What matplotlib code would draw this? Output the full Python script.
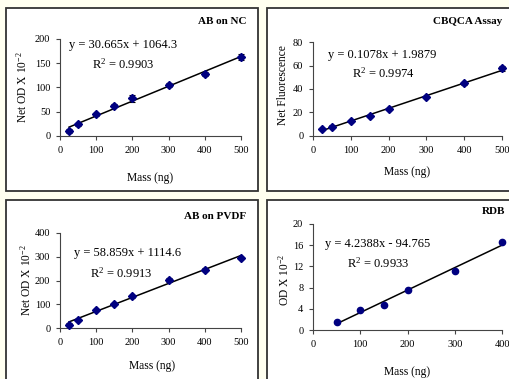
import matplotlib
matplotlib.use("Agg")
import matplotlib.pyplot as plt
from matplotlib.patches import Rectangle
import numpy as np

plt.rcParams['font.family'] = ['Liberation Serif', 'DejaVu Serif']
plt.rcParams['mathtext.fontset'] = 'custom'
plt.rcParams['mathtext.rm'] = 'Liberation Serif'
plt.rcParams['mathtext.it'] = 'Liberation Serif:italic'

W, H = 509, 379

# data
nc_x = [25, 50, 100, 150, 200, 300, 400, 500]
nc_y = [10, 24, 45, 62, 78, 105, 127, 163]
nc_err = [4, 3, 3, 3, 7, 5, 4, 6]
nc_fit = (30.665, 1064.3)

cb_x = [25, 50, 100, 150, 200, 300, 400, 500]
cb_y = [6, 8, 12.5, 17, 23, 33, 45, 57.5]
cb_err = [1, 1, 1, 1, 1, 1, 1.2, 2]
cb_fit = (0.1078, 1.9879)

pv_x = [25, 50, 100, 150, 200, 300, 400, 500]
pv_y = [13, 35, 75, 103, 133, 202, 246, 296]
pv_err = [6, 5, 5, 4, 6, 7, 5, 4]
pv_fit = (58.859, 1114.6)

rdb_x = [50, 100, 150, 200, 300, 400]
rdb_y = [1.5, 3.7, 4.8, 7.5, 11.2, 16.6]
rdb_fit = (4.2388, -94.765)

fig = plt.figure(figsize=(W / 100, H / 100), dpi=100, facecolor='#fffff0')


def px_rect(x0, y0, x1, y1):
    return [x0 / W, 1 - y1 / H, (x1 - x0) / W, (y1 - y0) / H]


def ftext(x, y, s, **kw):
    fig.text(x / W, 1 - y / H, s, **kw)


# panel boxes
for (x0, y0, x1, y1) in [(6, 8, 258, 191), (267, 8, 514, 191),
                         (6, 200, 258, 384), (267, 200, 514, 384)]:
    fig.patches.append(Rectangle((x0 / W, 1 - y1 / H), (x1 - x0) / W, (y1 - y0) / H,
                                 transform=fig.transFigure, facecolor='white',
                                 edgecolor='#333333', lw=1.3, zorder=-5))


def panel(rect, x, y, err, fit, xlim, xticks, ylim, yticks, marker, scale):
    ax = fig.add_axes(px_rect(*rect))
    ax.set_zorder(2)
    ax.patch.set_visible(False)
    if err is not None:
        ax.errorbar(x, y, yerr=err, fmt=marker, color='#000080', ms=4,
                    ecolor='black', elinewidth=0.8, capsize=2.5, capthick=0.8,
                    zorder=3, clip_on=False)
    else:
        ax.plot(x, y, marker, color='#000080', ms=4.5, zorder=3, clip_on=False)
    xs = np.array([x[0], x[-1]])
    ax.plot(xs, (fit[0] * xs + fit[1]) / scale, color='black', lw=1.1, zorder=2)
    ax.set_xlim(*xlim)
    ax.set_ylim(*ylim)
    ax.set_xticks(xticks)
    ax.set_yticks(yticks)
    for s in ['top', 'right']:
        ax.spines[s].set_visible(False)
    for s in ['left', 'bottom']:
        ax.spines[s].set_color('#444444')
        ax.spines[s].set_linewidth(0.8)
    ax.tick_params(direction='out', length=3, width=0.8, labelsize=7.5, pad=4,
                   color='#444444')
    return ax


panel((60, 39, 241, 136), nc_x, nc_y, nc_err, nc_fit, (0, 500), range(0, 501, 100),
      (0, 200), range(0, 201, 50), 'D', 100)
panel((313, 42, 502, 136), cb_x, cb_y, cb_err, cb_fit, (0, 500), range(0, 501, 100),
      (0, 80), range(0, 81, 20), 'D', 1)
panel((60, 233, 241, 328), pv_x, pv_y, pv_err, pv_fit, (0, 500), range(0, 501, 100),
      (0, 400), range(0, 401, 100), 'D', 100)
panel((313, 224, 502, 330), rdb_x, rdb_y, None, rdb_fit, (0, 400), range(0, 401, 100),
      (0, 20), range(0, 21, 4), 'o', 100)

tkw = dict(fontsize=8, fontweight='bold', ha='right', va='center')
ekw = dict(fontsize=9, ha='left', va='center')
lkw = dict(fontsize=8.3, ha='center', va='center')

ftext(247, 22, 'AB on NC', **tkw)
ftext(69, 45, 'y = 30.665x + 1064.3', **ekw)
ftext(92, 64, 'R$^2$ = 0.9903', **ekw)
ftext(150, 178, 'Mass (ng)', **lkw)
ftext(22, 87, 'Net OD X 10$^{-2}$', rotation=90, **lkw)

ftext(502, 22, 'CBQCA Assay', **tkw)
ftext(328, 55, 'y = 0.1078x + 1.9879', **ekw)
ftext(352, 73, 'R$^2$ = 0.9974', **ekw)
ftext(407, 172, 'Mass (ng)', **lkw)
ftext(283, 85, 'Net Fluorescence', rotation=90, **lkw)

ftext(246, 216, 'AB on PVDF', **tkw)
ftext(74, 253, 'y = 58.859x + 1114.6', **ekw)
ftext(90, 273, 'R$^2$ = 0.9913', **ekw)
ftext(152, 366, 'Mass (ng)', **lkw)
ftext(26, 280, 'Net OD X 10$^{-2}$', rotation=90, **lkw)

ftext(505, 211, 'RDB', **tkw)
ftext(325, 244, 'y = 4.2388x - 94.765', **ekw)
ftext(347, 263, 'R$^2$ = 0.9933', **ekw)
ftext(407, 372, 'Mass (ng)', **lkw)
ftext(284, 280, 'OD X 10$^{-2}$', rotation=90, **lkw)

fig.savefig('out.png', dpi=100, facecolor=fig.get_facecolor())
